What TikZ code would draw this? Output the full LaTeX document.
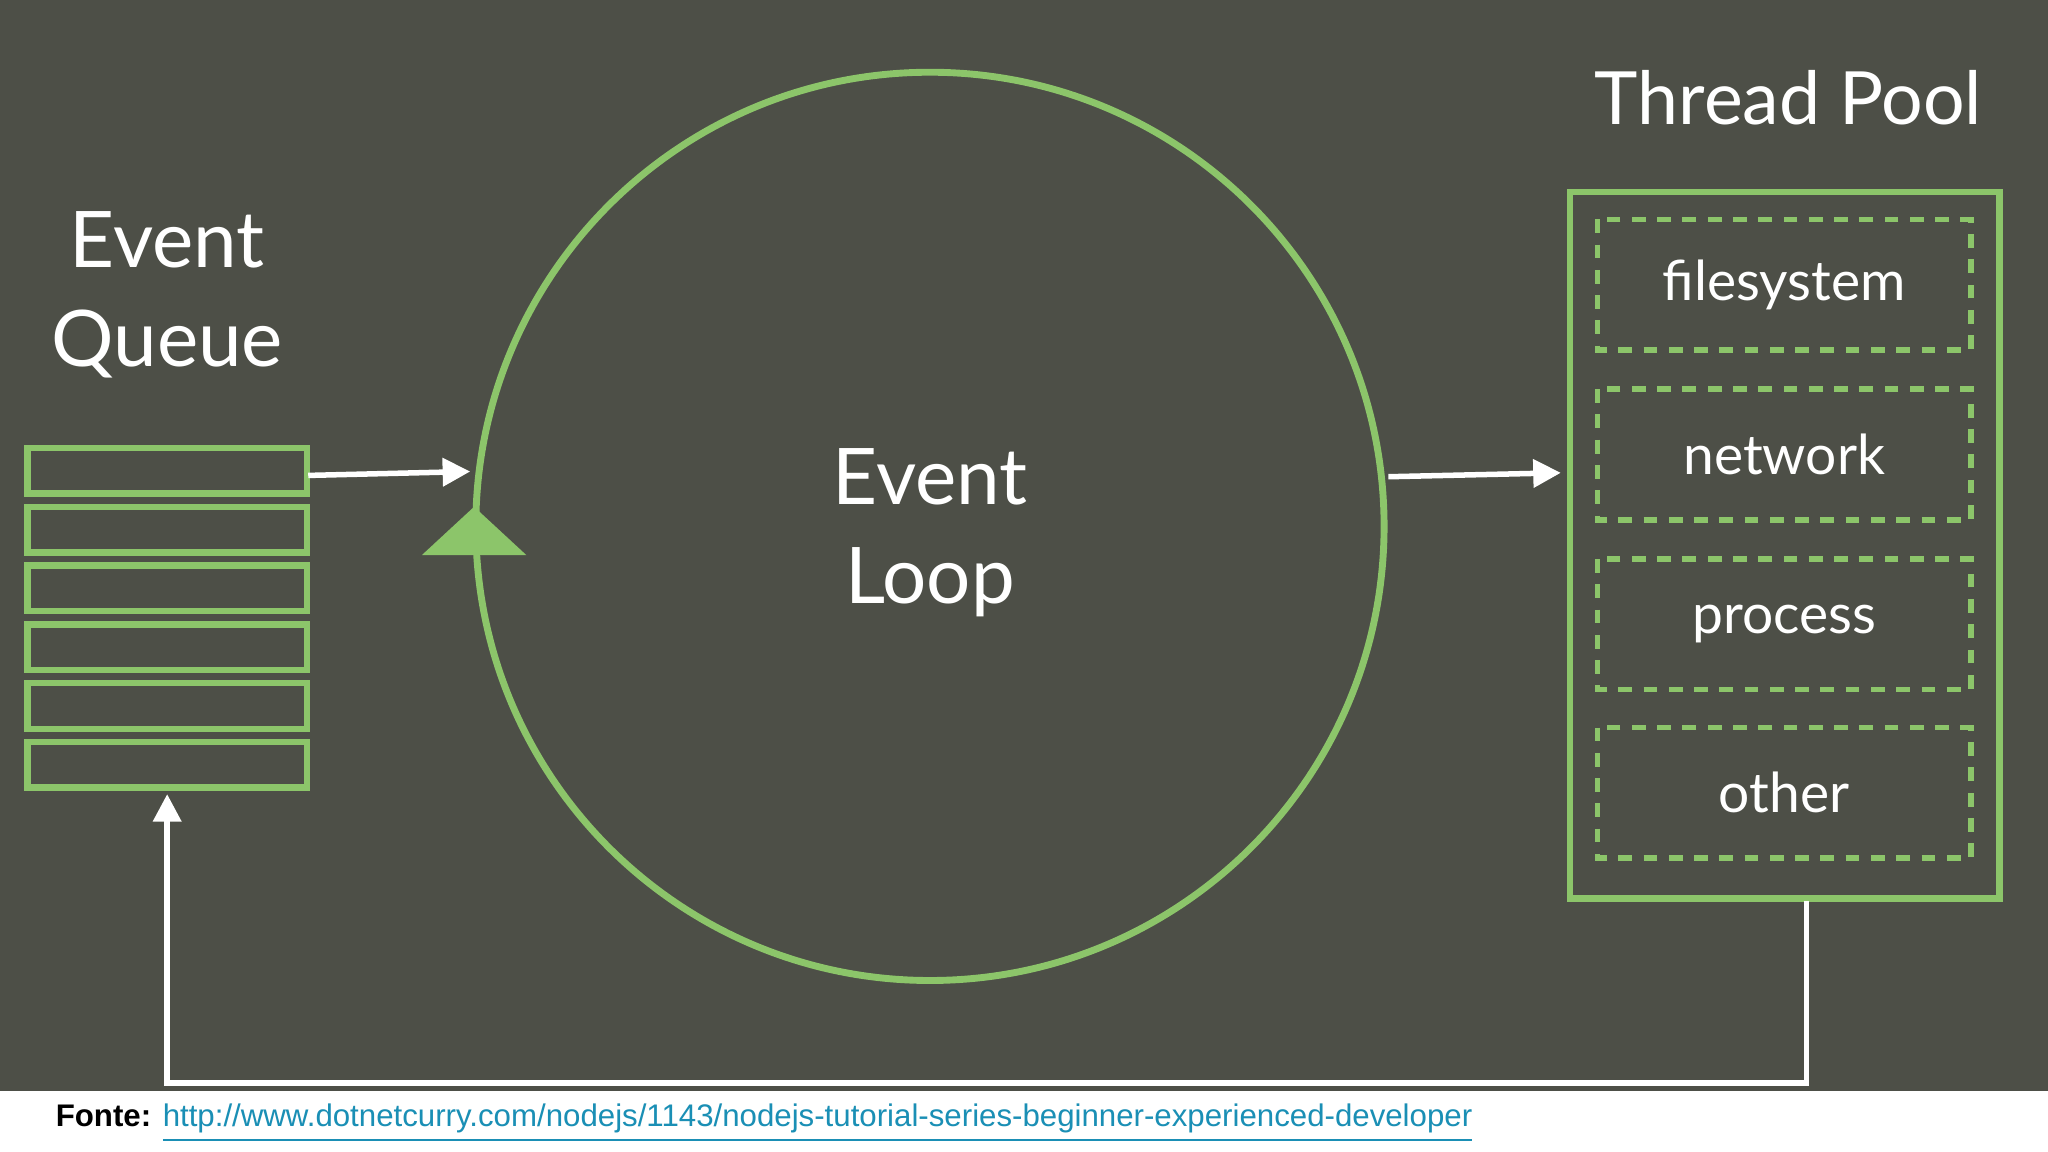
\documentclass[tikz,border=0pt]{standalone}
\usepackage{fontspec}
\setmainfont{Lato}
\newfontfamily\footfont{Liberation Sans}
\usetikzlibrary{arrows.meta}
\definecolor{bg}{HTML}{4D4F47}
\definecolor{gr}{HTML}{8CC56A}
\definecolor{lnk}{HTML}{1A8FB5}
\begin{document}
\begin{tikzpicture}[x=0.01cm,y=-0.01cm,
  qbox/.style={draw=gr,line width=1.4pt},
  dbox/.style={draw=gr,line width=1.2pt,dash pattern=on 3pt off 2.5pt},
  lbl/.style={text=white,font=\fontsize{12}{14}\selectfont},
  big/.style={text=white,font=\fontsize{17}{21.5}\selectfont,align=center},
  wa/.style={draw=white,line width=1.2pt,-{Triangle[length=6pt,width=6pt]}}]
\useasboundingbox (0,0) rectangle (1568,882);
\fill[white] (0,0) rectangle (1568,882);
\fill[bg] (0,0) rectangle (1568,835);
\node[big] (eq) at (128,226) {Event\\Queue};
\foreach \i/\y in {1/343,2/388,3/433,4/478,5/523,6/568}
  \draw[qbox] (21,\y) rectangle (235,\y+35) coordinate (q\i);
\coordinate (qtop) at (236,364);
\coordinate (qbot) at (128,608);
\node[draw=gr,line width=1.5pt,circle,minimum size=6.95cm,inner sep=0] (loop) at (712,403) {};
\node[big] at (712,408) {Event\\Loop};
\fill[gr] (363,388) -- (403,425) -- (323,425) -- cycle;
\draw[wa] (qtop) -- (360,361);
\draw[wa] (1063,365) -- (1195,362);
\node[text=white,font=\fontsize{16}{20}\selectfont,anchor=east] (tp) at (1530,75) {Thread Pool};
\draw[qbox,line width=1.4pt] (1202,147) rectangle (1531,688);
\foreach \y/\t in {168/filesystem,298/network,428/process,557/other}{
  \draw[dbox] (1223,\y) rectangle (1509,\y+100);
  \node[lbl] at (1366,\y+50) {\t};}
\draw[wa] (1383,690) -- (1383,829) -- (128,829) -- (qbot);
\node[anchor=west,font=\footfont\fontsize{6.8}{8}\selectfont,inner sep=0] at (42,860)
  {\textbf{Fonte:} \textcolor{lnk}{\underline{http://www.dotnetcurry.com/nodejs/1143/nodejs-tutorial-series-beginner-experienced-developer}}};
\end{tikzpicture}
\end{document}
